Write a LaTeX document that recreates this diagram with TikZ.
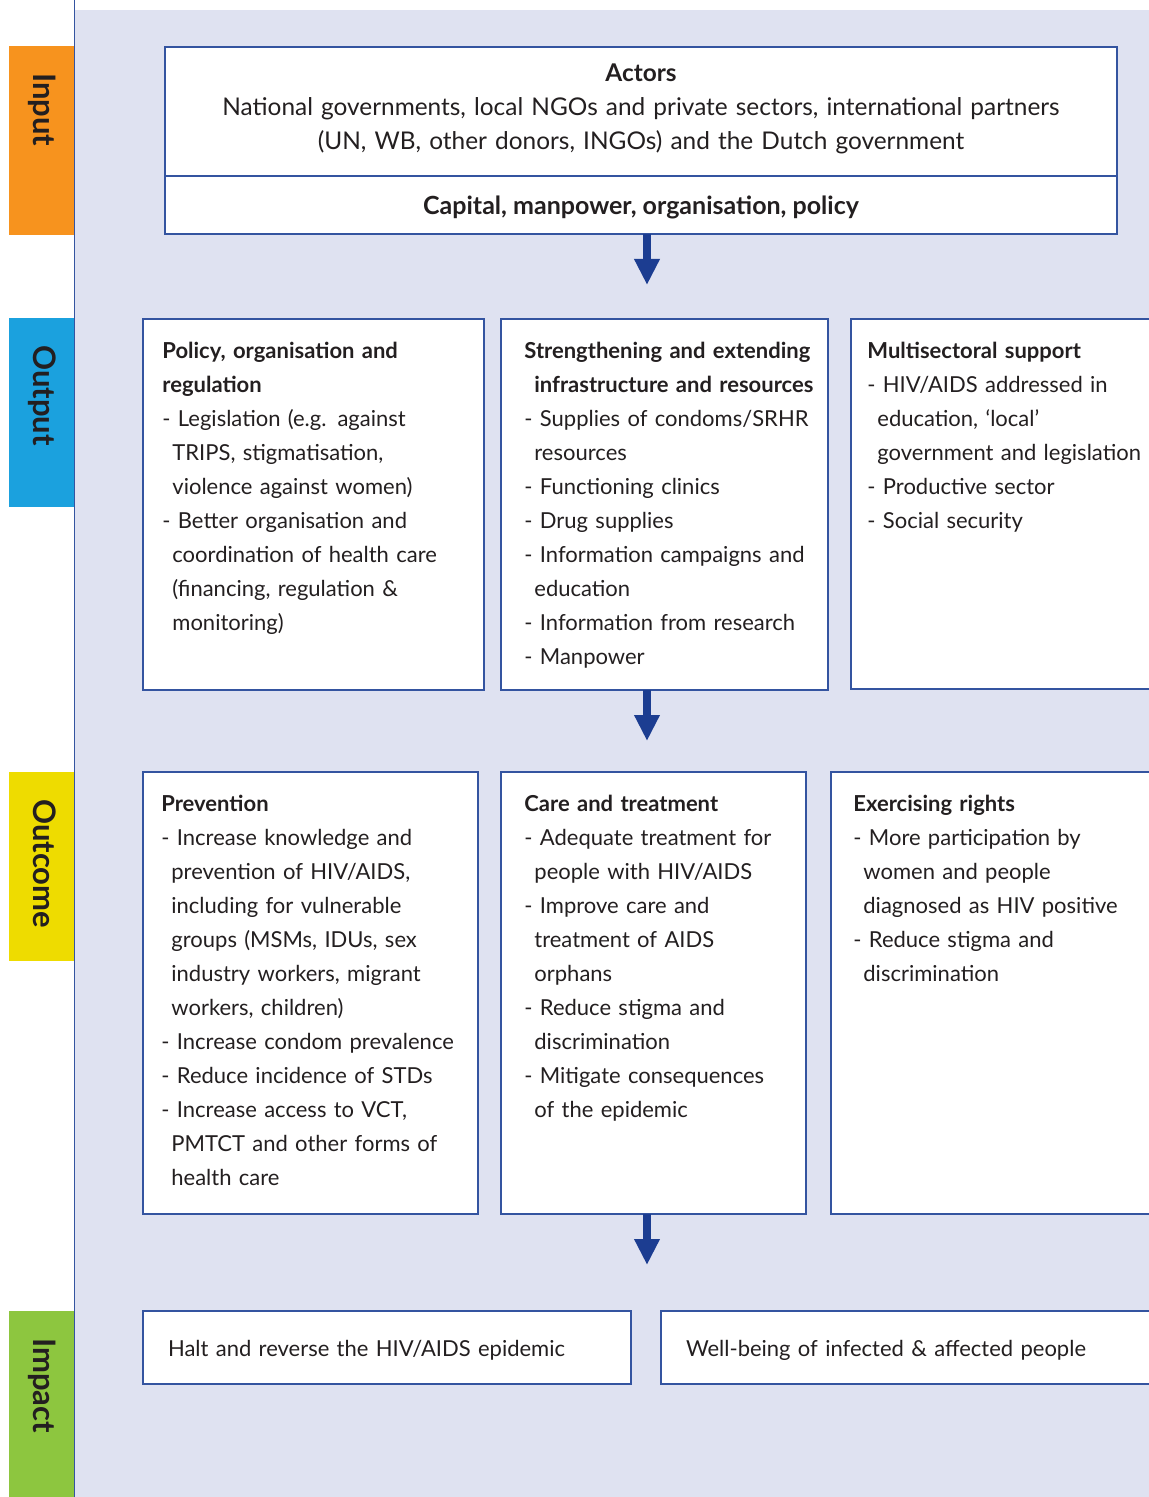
\documentclass[tikz,border=0pt]{standalone}
\usepackage{fontspec}
\setmainfont{Lato}
\usetikzlibrary{arrows.meta}
\setlength{\parindent}{0pt}
\definecolor{bgblue}{RGB}{223,226,241}
\definecolor{boxline}{RGB}{52,84,160}
\definecolor{arrowblue}{RGB}{28,61,145}
\definecolor{textcol}{RGB}{35,31,32}
\definecolor{inorange}{RGB}{247,147,30}
\definecolor{outcyan}{RGB}{27,161,222}
\definecolor{ocyellow}{RGB}{238,220,0}
\definecolor{imgreen}{RGB}{141,198,63}
\tikzset{stagebox/.style = {draw=boxline, line width=0.75pt, fill=white,
                            anchor=north west, inner sep=0pt, outer sep=0pt},
         boxtext/.style = {anchor=north west, inner sep=0pt, text width=200pt,
                           align=left, text=textcol,
                           font=\fontsize{11}{17}\selectfont},
         stagetab/.style = {anchor=north west, inner sep=0pt,
                            minimum width=32.5pt, minimum height=94.5pt},
         stagelabel/.style = {rotate=-90, anchor=base west, inner sep=0pt,
                              text=textcol, font=\fontsize{15.5}{17}\selectfont\bfseries},
         flow/.style = {draw=arrowblue, line width=4pt,
                        -{Triangle[width=12pt,length=13pt]}}}
\newcommand\ind{\hspace*{5pt}}

\begin{document}
\begin{tikzpicture}[x=0.5pt, y=-0.5pt]
    \useasboundingbox (0, 0) rectangle (1149, 1497);
    \clip (0, 0) rectangle (1149, 1497);

    \fill [bgblue] (75, 10) rectangle (1149, 1497);
    \draw [boxline, line width=0.75pt] (74.5, 0) -- (74.5, 1497);

    \foreach \name/\col/\y/\lab in {in/inorange/46/Input, out/outcyan/318/Output,
                                    oc/ocyellow/772/Outcome, im/imgreen/1311/Impact} {
      \node [stagetab, fill=\col] (\name tab) at (9, \y) {};
      \node [stagelabel] (\name lab) at (33, \y + 27) {\lab};
    }

    % input
    \node [stagebox, minimum width=476pt, minimum height=64.5pt] (actors) at (165, 47) {};
    \node [boxtext, anchor=north, text width=460pt, align=center,
           font=\fontsize{12.2}{17}\selectfont] (actorstext) at (641, 57) {%
      \strut\textbf{Actors}\\
      National governments, local NGOs and private sectors, international partners\\
      (UN, WB, other donors, INGOs) and the Dutch government};
    \node [stagebox, minimum width=476pt, minimum height=29pt, text=textcol,
           text height=12pt, text depth=2pt,
           font=\fontsize{12.5}{17}\selectfont\bfseries] (capital) at (165, 176)
          {Capital, manpower, organisation, policy};

    % output
    \node [stagebox, minimum width=170.5pt, minimum height=185.5pt] (policy) at (143, 319) {};
    \node [stagebox, minimum width=163.5pt, minimum height=185.5pt] (infra) at (501, 319) {};
    \node [stagebox, minimum width=200pt, minimum height=185pt] (multi) at (851, 319) {};

    \node [boxtext] (policytext) at (162, 334) {%
      \strut\textbf{Policy, organisation and}\\
      \textbf{regulation}\\
      - Legislation (e.g. against\\
      \ind TRIPS, stigmatisation,\\
      \ind violence against women)\\
      - Better organisation and\\
      \ind coordination of health care\\
      \ind (financing, regulation \&\\
      \ind monitoring)};
    \node [boxtext] (infratext) at (524, 334) {%
      \strut\textbf{Strengthening and extending}\\
      \ind\textbf{infrastructure and resources}\\
      - Supplies of condoms/SRHR\\
      \ind resources\\
      - Functioning clinics\\
      - Drug supplies\\
      - Information campaigns and\\
      \ind education\\
      - Information from research\\
      - Manpower};
    \node [boxtext] (multitext) at (867, 334) {%
      \strut\textbf{Multisectoral support}\\
      - HIV/AIDS addressed in\\
      \ind education, ‘local’\\
      \ind government and legislation\\
      - Productive sector\\
      - Social security};

    % outcome
    \node [stagebox, minimum width=167.5pt, minimum height=221pt] (prevention) at (143, 772) {};
    \node [stagebox, minimum width=152.5pt, minimum height=221pt] (care) at (501, 772) {};
    \node [stagebox, minimum width=200pt, minimum height=221pt] (rights) at (831, 772) {};

    \node [boxtext] (preventiontext) at (161, 787) {%
      \strut\textbf{Prevention}\\
      - Increase knowledge and\\
      \ind prevention of HIV/AIDS,\\
      \ind including for vulnerable\\
      \ind groups (MSMs, IDUs, sex\\
      \ind industry workers, migrant\\
      \ind workers, children)\\
      - Increase condom prevalence\\
      - Reduce incidence of STDs\\
      - Increase access to VCT,\\
      \ind PMTCT and other forms of\\
      \ind health care};
    \node [boxtext] (caretext) at (524, 787) {%
      \strut\textbf{Care and treatment}\\
      - Adequate treatment for\\
      \ind people with HIV/AIDS\\
      - Improve care and\\
      \ind treatment of AIDS\\
      \ind orphans\\
      - Reduce stigma and\\
      \ind discrimination\\
      - Mitigate consequences\\
      \ind of the epidemic};
    \node [boxtext] (rightstext) at (853, 787) {%
      \strut\textbf{Exercising rights}\\
      - More participation by\\
      \ind women and people\\
      \ind diagnosed as HIV positive\\
      - Reduce stigma and\\
      \ind discrimination};

    % impact
    \node [stagebox, minimum width=244pt, minimum height=36.5pt, inner xsep=12.5pt,
           text width=219pt, text height=11pt, text depth=2pt, align=left, text=textcol,
           font=\fontsize{11}{17}\selectfont] (halt) at (143, 1311)
          {Halt and reverse the HIV/AIDS epidemic};
    \node [stagebox, minimum width=300pt, minimum height=36.5pt, inner xsep=12.5pt,
           text width=275pt, text height=11pt, text depth=2pt, align=left, text=textcol,
           font=\fontsize{11}{17}\selectfont] (wellbeing) at (661, 1311)
          {Well-being of infected \& affected people};

    \foreach \src/\yy in {capital/285, infra/741, care/1265} {
      \coordinate (\src end) at (647, \yy);
      \draw [flow] (\src.south -| \src end) -- (\src end);
    }
  \end{tikzpicture}
\end{document}
